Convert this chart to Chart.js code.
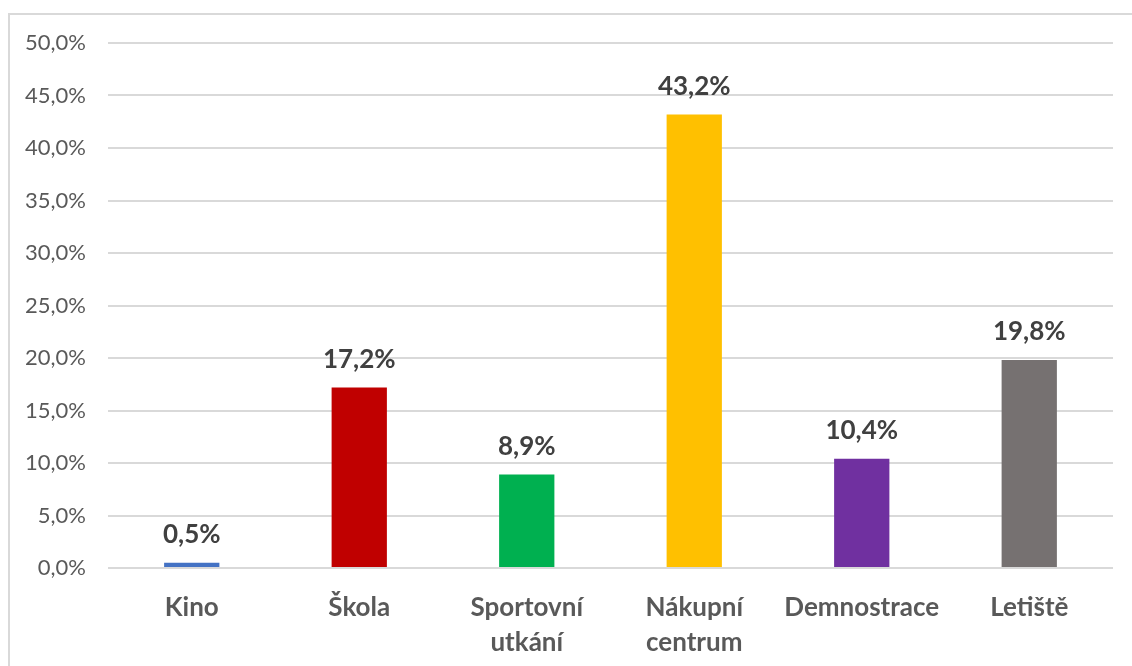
<!DOCTYPE html>
<html>
<head>
<meta charset="utf-8">
<script src="https://cdn.jsdelivr.net/npm/chart.js@4/dist/chart.umd.min.js"></script>
<style>
html,body{margin:0;padding:0;background:#fff;overflow:hidden;}
#frame{position:absolute;left:8px;top:13px;width:1140px;height:680px;border:2px solid #d9d9d9;box-sizing:border-box;}
#wrap{position:absolute;left:0;top:0;width:1132px;height:666px;}
</style>
</head>
<body>
<div id="frame"></div>
<div id="wrap"><canvas id="c"></canvas></div>
<script>
const categories = [["Kino"], ["Škola"], ["Sportovní", "utkání"], ["Nákupní", "centrum"], ["Demnostrace"], ["Letiště"]];
const values = [0.5, 17.2, 8.9, 43.2, 10.4, 19.8];
const colors = ["#4472c4", "#c00000", "#00b050", "#ffc000", "#7030a0", "#767171"];
const yTicks = [0, 5, 10, 15, 20, 25, 30, 35, 40, 45, 50];

const fmt = v => v.toFixed(1).replace('.', ',') + '%';
const FONT = "Lato, 'Liberation Sans', sans-serif";

const labelPlugin = {
  id: 'barLabels',
  afterDatasetsDraw(chart) {
    const ctx = chart.ctx;
    const meta = chart.getDatasetMeta(0);
    ctx.save();
    ctx.font = "bold 26px " + FONT;
    ctx.fillStyle = "#404040";
    ctx.textAlign = "center";
    ctx.textBaseline = "middle";
    meta.data.forEach((bar, i) => {
      ctx.fillText(fmt(values[i]), bar.x, bar.y - 28);
    });
    ctx.restore();
  }
};

new Chart(document.getElementById('c'), {
  type: 'bar',
  data: {
    labels: categories,
    datasets: [{
      data: values,
      backgroundColor: colors,
      barPercentage: 0.33,
      categoryPercentage: 1.0
    }]
  },
  options: {
    responsive: true,
    maintainAspectRatio: false,
    animation: false,
    layout: { padding: { top: 43, right: 19, left: 0, bottom: 0 } },
    plugins: { legend: { display: false }, tooltip: { enabled: false } },
    scales: {
      x: {
        grid: { display: false },
        border: { display: false },
        ticks: {
          color: "#595959",
          font: { family: FONT, size: 26, weight: 'bold', lineHeight: 1.35 },
          padding: 14,
          maxRotation: 0,
          autoSkip: false
        },
        afterFit(scale) { scale.height = 98; }
      },
      y: {
        min: 0, max: 50,
        afterBuildTicks(scale) { scale.ticks = yTicks.map(v => ({ value: v })); },
        grid: { color: "#d9d9d9", lineWidth: 2, drawTicks: false },
        border: { display: false },
        ticks: {
          color: "#595959",
          font: { family: FONT, size: 22 },
          padding: 22,
          callback: v => fmt(v)
        },
        afterFit(scale) { scale.width = 108; }
      }
    }
  },
  plugins: [labelPlugin]
});
</script>
</body>
</html>
